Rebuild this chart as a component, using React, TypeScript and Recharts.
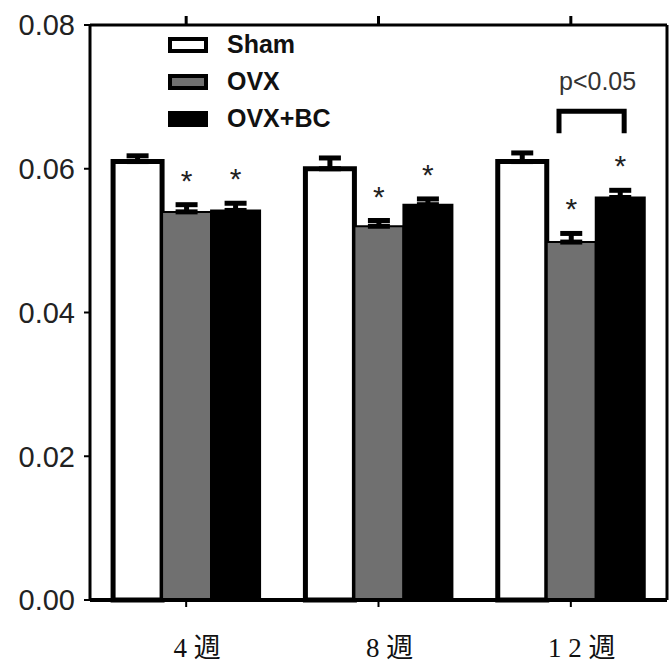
import React from 'react';
import { BarChart, Bar, XAxis, YAxis, ErrorBar, LabelList, Legend, ReferenceLine } from 'recharts';

const weeks = ['4 週', '8 週', '1 2 週'];
const seriesNames = ['Sham', 'OVX', 'OVX+BC'];
const shamValues = [0.061, 0.06, 0.061];
const shamErrors = [0.0008, 0.0015, 0.0012];
const ovxValues = [0.054, 0.052, 0.0498];
const ovxErrors = [0.001, 0.0008, 0.0012];
const ovxBcValues = [0.0542, 0.055, 0.056];
const ovxBcErrors = [0.001, 0.0008, 0.001];
const yTicks = [0, 0.02, 0.04, 0.06, 0.08];
const yMax = 0.08;
const bracketWeek = 2;
const bracketValue = 0.068;
const bracketLabel = 'p<0.05';

const PLOT_TOP = 25;

const data = weeks.map((name, i) => ({
  name,
  sham: shamValues[i],
  shamErr: [0, shamErrors[i]],
  ovx: ovxValues[i],
  ovxErr: [0, ovxErrors[i]],
  ovxBc: ovxBcValues[i],
  ovxBcErr: [0, ovxBcErrors[i]],
}));

const swatches = ['#fff', '#707070', '#000'];

function LegendBox() {
  return (
    <div style={{ fontFamily: 'Liberation Sans, Arial, sans-serif', fontWeight: 'bold', fontSize: 25 }}>
      {seriesNames.map((n, i) => (
        <div key={n} style={{ display: 'flex', alignItems: 'center', height: 37 }}>
          <div
            style={{
              width: 32,
              height: 8,
              background: swatches[i],
              border: '4px solid #000',
              marginRight: 19,
            }}
          />
          <span style={{ color: '#111' }}>{n}</span>
        </div>
      ))}
    </div>
  );
}

function makeStar(errors: number[]) {
  return (props: any) => {
    const { x, y, width, height, value, index } = props;
    const ppu = height / value;
    const capY = y - errors[index] * ppu;
    return (
      <text
        x={x + width / 2}
        y={capY - 32 + 18}
        textAnchor="middle"
        fontSize={30}
        fill="#222"
        fontFamily="Liberation Sans, Arial, sans-serif"
      >
        *
      </text>
    );
  };
}

function ovxLabel(props: any) {
  const star = makeStar(ovxErrors)(props);
  const { x, y, width, height, value, index } = props;
  if (index !== bracketWeek) return star;
  const ppu = height / value;
  const bottom = y + height;
  const top = bottom - bracketValue * ppu;
  const x1 = x + width * 0.25;
  const x2 = x + width * 1.58;
  return (
    <g>
      {star}
      <path d={`M${x1},${top + 22} L${x1},${top} L${x2},${top} L${x2},${top + 22}`} fill="none" stroke="#000" strokeWidth={5} />
      <text x={x1} y={top - 21} fontSize={25} fill="#333" fontFamily="Liberation Sans, Arial, sans-serif">
        {bracketLabel}
      </text>
    </g>
  );
}

// bottom label plus the matching tick on the top frame line
const xTick = (props: any) => {
  const { x, y, payload } = props;
  return (
    <g>
      <line x1={x} y1={PLOT_TOP} x2={x} y2={PLOT_TOP - 9} stroke="#000" strokeWidth={3} />
      <text x={x + 11} y={y + 48} textAnchor="middle" fontSize={27} fill="#111" fontFamily="Liberation Serif, 'Noto Sans CJK JP', serif">
        {payload.value}
      </text>
    </g>
  );
};

export default function App() {
  return (
    <div>
      <style>{`body{margin:0}`}</style>
      <BarChart
        width={670}
        height={664}
        data={data}
        margin={{ top: PLOT_TOP, right: 0, bottom: 0, left: 0 }}
        barCategoryGap="12%"
        barGap={0}
      >
        <ReferenceLine y={yMax} stroke="#000" strokeWidth={3} ifOverflow="visible" />
        <XAxis
          dataKey="name"
          height={64}
          tick={xTick}
          tickSize={7}
          axisLine={{ stroke: '#000', strokeWidth: 4 }}
          tickLine={{ stroke: '#000', strokeWidth: 2 }}
        />
        <YAxis
          domain={[0, yMax]}
          ticks={yTicks}
          tickFormatter={(v: number) => v.toFixed(2)}
          width={90}
          tickSize={6}
          tickMargin={9}
          tick={{ fontSize: 29, fill: '#222', fontFamily: 'Liberation Sans, Arial, sans-serif' }}
          axisLine={{ stroke: '#000', strokeWidth: 3 }}
          tickLine={{ stroke: '#000', strokeWidth: 2 }}
        />
        <YAxis
          yAxisId="right"
          orientation="right"
          domain={[0, yMax]}
          width={3}
          tick={false}
          axisLine={{ stroke: '#000', strokeWidth: 3 }}
          tickLine={false}
        />
        <Legend
          layout="vertical"
          align="center"
          verticalAlign="middle"
          content={<LegendBox />}
          wrapperStyle={{ top: 26, left: 168, width: 170, height: 111, zIndex: -1, background: 'transparent' }}
        />
        <Bar dataKey="sham" name={seriesNames[0]} fill="#fff" stroke="#000" strokeWidth={5} isAnimationActive={false}>
          <ErrorBar dataKey="shamErr" width={11} stroke="#000" strokeWidth={5} />
        </Bar>
        <Bar dataKey="ovx" name={seriesNames[1]} fill="#707070" stroke="#000" strokeWidth={2} isAnimationActive={false}>
          <ErrorBar dataKey="ovxErr" width={11} stroke="#000" strokeWidth={5} />
          <LabelList dataKey="ovx" content={ovxLabel} />
        </Bar>
        <Bar dataKey="ovxBc" name={seriesNames[2]} fill="#000" stroke="#000" strokeWidth={2} isAnimationActive={false}>
          <ErrorBar dataKey="ovxBcErr" width={11} stroke="#000" strokeWidth={5} />
          <LabelList dataKey="ovxBc" content={makeStar(ovxBcErrors)} />
        </Bar>
      </BarChart>
    </div>
  );
}
